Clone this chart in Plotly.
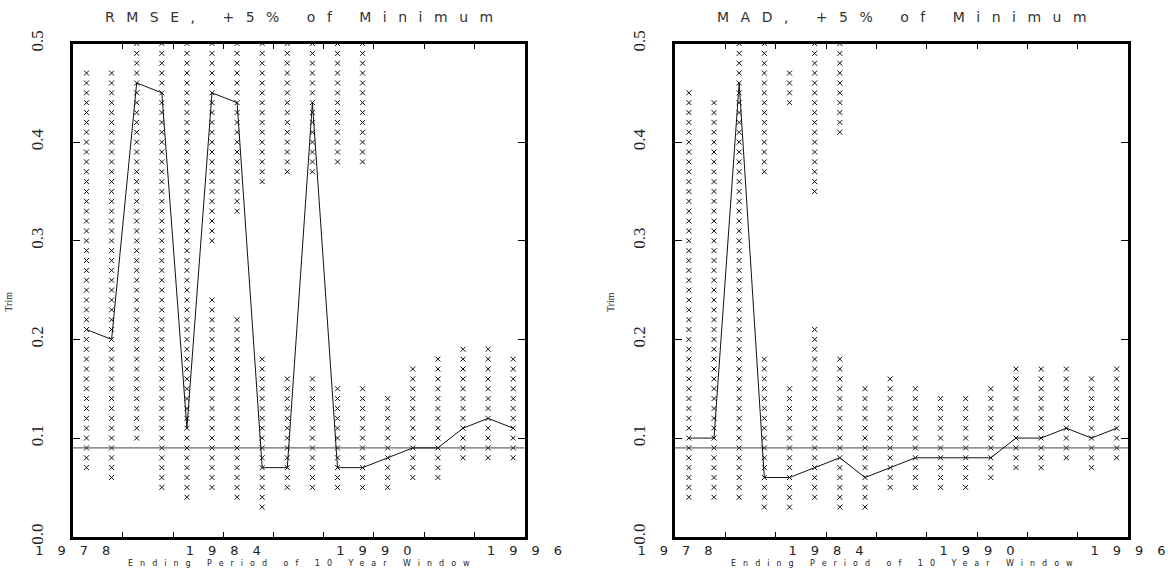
import numpy as np
import plotly.graph_objects as go

# Ending period of each 10-year estimation window
window_end = [1978.55, 1979.55, 1980.55, 1981.55, 1982.55, 1983.55,
              1984.55, 1985.55, 1986.55, 1987.55, 1988.55, 1989.55,
              1990.55, 1991.55, 1992.55, 1993.55, 1994.55, 1995.55]

# Trim values whose error lies within 5% of the minimum: lower run and
# (where present) a separate upper run, plus the trim at the minimum.
rmse_low_lo = [0.07, 0.06, 0.10, 0.05, 0.04, 0.05, 0.04, 0.03, 0.05,
               0.05, 0.05, 0.05, 0.05, 0.06, 0.06, 0.08, 0.08, 0.08]
rmse_low_hi = [0.47, 0.47, 0.50, 0.50, 0.50, 0.24, 0.22, 0.18, 0.16,
               0.16, 0.15, 0.15, 0.14, 0.17, 0.18, 0.19, 0.19, 0.18]
rmse_up_lo = [None, None, None, None, None, 0.30, 0.33, 0.36, 0.37,
              0.37, 0.38, 0.38, None, None, None, None, None, None]
rmse_up_hi = [None, None, None, None, None, 0.50, 0.50, 0.50, 0.50,
              0.50, 0.50, 0.50, None, None, None, None, None, None]
rmse_best = [0.21, 0.20, 0.46, 0.45, 0.11, 0.45, 0.44, 0.07, 0.07,
             0.44, 0.07, 0.07, 0.08, 0.09, 0.09, 0.11, 0.12, 0.11]

mad_low_lo = [0.04, 0.04, 0.04, 0.03, 0.03, 0.04, 0.03, 0.03, 0.05,
              0.05, 0.05, 0.05, 0.06, 0.07, 0.07, 0.08, 0.07, 0.08]
mad_low_hi = [0.45, 0.44, 0.50, 0.18, 0.15, 0.21, 0.18, 0.15, 0.16,
              0.15, 0.14, 0.14, 0.15, 0.17, 0.17, 0.17, 0.16, 0.17]
mad_up_lo = [None, None, None, 0.37, 0.44, 0.35, 0.41, None, None,
             None, None, None, None, None, None, None, None, None]
mad_up_hi = [None, None, None, 0.50, 0.47, 0.50, 0.50, None, None,
             None, None, None, None, None, None, None, None, None]
mad_best = [0.10, 0.10, 0.46, 0.06, 0.06, 0.07, 0.08, 0.06, 0.07,
            0.08, 0.08, 0.08, 0.08, 0.10, 0.10, 0.11, 0.10, 0.11]

reference_trim = 0.09
trim_grid = np.round(np.arange(0.0, 0.5001, 0.01), 2)

x_tick_vals = [1978, 1980, 1982, 1984, 1986, 1988, 1990, 1992, 1994, 1996]
x_tick_text = ["1978", "", "", "1984", "", "", "1990", "", "", "1996"]
y_tick_vals = [0.0, 0.1, 0.2, 0.3, 0.4, 0.5]
y_tick_text = ["0.0", "0.1", "0.2", "0.3", "0.4", "0.5"]

panel_titles = ["RMSE, +5% of Minimum", "MAD, +5% of Minimum"]
x_title = "Ending Period of 10 Year Window"
y_title = "Trim"

W, H = 1168, 569
x_domains = [(72.7 / W, 524.5 / W), (675.0 / W, 1128.0 / W)]
y_domain = ((H - 536.7) / H, (H - 43.5) / H)


def spaced(text, px):
    # widen the tracking between characters, none after the last one
    if not text:
        return ""
    return '<span style="letter-spacing:%gpx">%s</span>%s' % (px, text[:-1], text[-1])


def expand(lo_list, hi_list, up_lo, up_hi):
    xs, ys = [], []
    for x, lo, hi, ulo, uhi in zip(window_end, lo_list, hi_list, up_lo, up_hi):
        sel = (trim_grid >= lo - 1e-9) & (trim_grid <= hi + 1e-9)
        if ulo is not None:
            sel |= (trim_grid >= ulo - 1e-9) & (trim_grid <= uhi + 1e-9)
        pts = trim_grid[sel]
        xs.extend([x] * len(pts))
        ys.extend(pts.tolist())
    return xs, ys


fig = go.Figure()

panels = [
    (rmse_low_lo, rmse_low_hi, rmse_up_lo, rmse_up_hi, rmse_best),
    (mad_low_lo, mad_low_hi, mad_up_lo, mad_up_hi, mad_best),
]

for i, (lo, hi, ulo, uhi, best) in enumerate(panels):
    xa = "x" if i == 0 else "x2"
    ya = "y" if i == 0 else "y2"
    xs, ys = expand(lo, hi, ulo, uhi)
    fig.add_trace(go.Scatter(
        x=xs, y=ys, mode="markers", xaxis=xa, yaxis=ya,
        marker=dict(symbol="x-thin", size=5,
                    line=dict(width=1, color="#111111"), color="#111111"),
        showlegend=False, hoverinfo="skip", cliponaxis=True))
    fig.add_trace(go.Scatter(
        x=[1978, 1996], y=[reference_trim, reference_trim], mode="lines",
        xaxis=xa, yaxis=ya, line=dict(color="#444444", width=1),
        showlegend=False, hoverinfo="skip"))
    fig.add_trace(go.Scatter(
        x=window_end, y=best, mode="lines", xaxis=xa, yaxis=ya,
        line=dict(color="#111111", width=1), showlegend=False))

axis_common = dict(showline=True, linewidth=3, linecolor="black",
                   mirror="ticks", ticks="inside", tickcolor="black",
                   showgrid=False, zeroline=False, automargin=False)

for i in range(2):
    suffix = "" if i == 0 else "2"
    fig.update_layout(**{
        "xaxis" + suffix: dict(
            axis_common, domain=list(x_domains[i]), range=[1978, 1996],
            anchor="y" + suffix, tickmode="array", tickvals=x_tick_vals,
            ticktext=[spaced(t, 14) for t in x_tick_text],
            ticklen=5, tickwidth=1,
            tickfont=dict(family="DejaVu Sans", size=13, color="#222222")),
        "yaxis" + suffix: dict(
            axis_common, domain=list(y_domain), range=[0, 0.5],
            anchor="x" + suffix, tickmode="array", tickvals=y_tick_vals,
            ticktext=y_tick_text, tickangle=-90, ticklen=7, tickwidth=1,
            ticklabelstandoff=20,
            tickfont=dict(family="Liberation Serif", size=17, color="#222222")),
    })

annotations = []
for i in range(2):
    cx = (x_domains[i][0] + x_domains[i][1]) / 2
    annotations.append(dict(
        text=spaced(panel_titles[i], 11.5), xref="paper", yref="paper",
        x=cx, y=(H - 17) / H, showarrow=False, xanchor="center",
        yanchor="middle",
        font=dict(family="DejaVu Sans", size=14, color="#333333")))
    annotations.append(dict(
        text=spaced(x_title, 7), xref="paper", yref="paper",
        x=cx, y=(H - 563) / H, showarrow=False, xanchor="center",
        yanchor="middle",
        font=dict(family="DejaVu Sans", size=8, color="#222222")))
    annotations.append(dict(
        text=y_title, xref="paper", yref="paper",
        x=(x_domains[i][0] * W - 64) / W, y=(H - 302) / H,
        showarrow=False, textangle=-90, xanchor="center", yanchor="middle",
        font=dict(family="Liberation Serif", size=10, color="#222222")))

fig.update_layout(
    width=W, height=H, margin=dict(l=0, r=0, t=0, b=0),
    paper_bgcolor="white", plot_bgcolor="white",
    annotations=annotations, showlegend=False)

fig.write_html("out.html")
